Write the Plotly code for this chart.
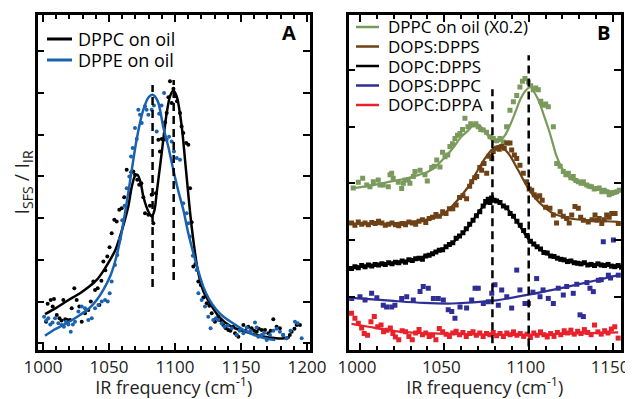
import plotly.graph_objects as go

# the page body adds an 8px margin; the figure is offset by it inside the 633x399 window
W, H = 625, 391
OFF = 8

# ---------------- Panel A data (IR frequency, I_SFS/I_IR in tick units) ----------------
a_names = ["DPPC on oil", "DPPE on oil"]
a_colors = ["#000000", "#1a62b0"]

a_dppc_f = [1002.3, 1003.5, 1005.8, 1007.3, 1008.3, 1010.4, 1012.4, 1014.0, 1015.4, 1016.8, 1018.4, 1020.5,
            1021.7, 1023.7, 1025.5, 1027.5, 1029.3, 1031.8, 1034.3, 1036.2, 1038.1, 1039.4, 1041.4, 1042.7,
            1044.2, 1045.7, 1047.2, 1048.7, 1050.4, 1052.0, 1054.0, 1055.8, 1057.8, 1059.6, 1061.5, 1063.4,
            1065.4, 1066.9, 1068.4, 1069.7, 1071.4, 1072.9, 1074.5, 1076.0, 1077.3, 1079.8, 1081.0, 1082.3,
            1083.6, 1085.5, 1087.4, 1088.6, 1090.0, 1091.1, 1092.5, 1093.7, 1095.0, 1096.2, 1097.5, 1098.8,
            1100.0, 1101.5, 1103.8, 1105.0, 1106.3, 1108.5, 1110.1, 1111.4, 1112.6, 1113.9, 1115.5, 1117.7,
            1119.5, 1121.5, 1124.0, 1126.0, 1127.8, 1130.3, 1132.8, 1134.5, 1136.6, 1138.5, 1140.4, 1142.0,
            1144.2, 1145.5, 1146.7, 1148.0, 1149.2, 1151.8, 1153.5, 1155.5, 1158.1, 1160.0, 1161.9, 1163.5,
            1165.7, 1168.2, 1170.7, 1172.5, 1174.5, 1177.0, 1179.5, 1182.0, 1184.6, 1187.0, 1188.4, 1190.5,
            1192.2, 1194.7]
a_dppc_v = [0.52, 0.95, 1.04, 0.88, 1.06, 0.68, 0.60, 0.55, 1.04, 0.58, 0.56, 0.56,
            0.84, 1.32, 1.04, 0.88, 0.52, 0.72, 0.80, 1.00, 1.48, 1.28, 1.32, 0.92,
            1.50, 1.96, 1.75, 2.08, 2.30, 2.64, 2.96, 2.92, 3.20, 3.24, 3.50, 4.16,
            3.60, 4.10, 4.12, 4.04, 3.92, 3.80, 3.84, 3.50, 3.12, 3.08, 3.30, 3.56,
            2.88, 3.60, 4.88, 4.60, 4.90, 4.88, 5.30, 5.52, 5.90, 6.28, 5.76, 6.10,
            5.92, 5.80, 5.52, 5.20, 5.04, 4.80, 4.76, 3.72, 2.90, 1.84, 1.90, 1.48,
            1.40, 1.10, 0.96, 0.90, 0.72, 0.52, 0.64, 0.55, 0.44, 0.36, 0.32, 0.30,
            0.40, 0.24, 0.20, 0.16, 0.32, 0.44, 0.30, 0.40, 0.36, 0.30, 0.28, 0.35,
            0.32, 0.32, 0.24, 0.30, 0.58, 0.40, 0.36, 0.20, 0.12, 0.20, 0.28, 0.35,
            0.44, 0.44]

a_dppe_f = [1000.8, 1002.5, 1004.0, 1005.5, 1007.2, 1009.1, 1011.6, 1014.2, 1015.8, 1017.4, 1019.2, 1021.0,
            1022.6, 1024.2, 1026.8, 1029.3, 1031.8, 1034.3, 1036.9, 1039.4, 1041.9, 1044.5, 1047.0, 1049.0,
            1050.5, 1052.0, 1054.5, 1056.3, 1058.2, 1060.0, 1061.8, 1063.4, 1065.4, 1066.7, 1067.9, 1069.7,
            1071.0, 1072.2, 1073.5, 1074.8, 1077.3, 1078.5, 1079.8, 1082.3, 1084.0, 1086.1, 1088.0, 1089.8,
            1091.7, 1093.7, 1095.5, 1097.5, 1099.2, 1101.3, 1103.8, 1106.3, 1108.8, 1110.1, 1111.4, 1113.5,
            1116.4, 1117.7, 1120.2, 1122.7, 1125.2, 1127.0, 1129.0, 1131.0, 1132.8, 1135.4, 1137.5, 1140.0,
            1143.0, 1146.7, 1149.0, 1151.8, 1154.3, 1157.0, 1160.6, 1161.9, 1163.1, 1165.7, 1167.5, 1169.5,
            1172.0, 1174.5, 1177.0, 1179.5, 1182.0, 1184.6, 1187.5, 1190.9, 1193.0, 1196.0]
a_dppe_v = [0.64, 0.55, 0.60, 0.45, 0.50, 0.60, 0.48, 0.44, 0.40, 0.52, 0.45, 0.28,
            0.45, 0.52, 0.76, 0.88, 0.84, 0.56, 0.60, 0.84, 0.92, 1.00, 1.04, 1.00,
            1.20, 1.48, 1.88, 2.12, 2.50, 2.95, 3.30, 3.72, 4.00, 4.48, 4.68, 5.16,
            4.90, 5.60, 5.48, 5.28, 5.68, 5.60, 5.48, 5.60, 5.70, 5.08, 5.50, 5.70,
            6.00, 4.88, 4.95, 4.84, 4.60, 4.44, 4.40, 3.36, 3.12, 2.88, 2.56, 2.10,
            1.76, 1.20, 1.04, 0.88, 0.64, 0.36, 0.56, 0.60, 0.56, 0.48, 0.40, 0.42,
            0.36, 0.20, 0.30, 0.24, 0.38, 0.30, 0.50, 0.38, 0.16, 0.20, 0.25, 0.08,
            0.20, 0.30, 0.35, 0.28, 0.20, 0.12, 0.30, 0.52, 0.48, 0.12]

a_dppc_fit_f = [1001.5, 1010, 1015.4, 1020, 1028, 1035, 1040.7, 1046, 1050.8, 1055, 1058.3, 1061.5, 1064.6,
                1067, 1069.5, 1071.5, 1074, 1076, 1079.8, 1082.3, 1084.5, 1086.1, 1089.9, 1093.7, 1096.2,
                1098.7, 1101.3, 1105.1, 1107.6, 1112.6, 1117.7, 1121.5, 1126.5, 1133, 1141.7, 1153, 1168,
                1183, 1187]
a_dppc_fit_v = [0.70, 0.85, 0.96, 1.05, 1.20, 1.36, 1.52, 1.75, 2.00, 2.25, 2.56, 2.90, 3.28,
                3.72, 4.00, 4.04, 3.85, 3.52, 3.16, 3.04, 3.20, 3.60, 4.56, 5.52, 5.92,
                6.06, 5.92, 5.20, 4.40, 2.80, 1.68, 1.25, 0.96, 0.65, 0.42, 0.28, 0.16,
                0.12, 0.15]

a_dppe_fit_f = [1001.5, 1008, 1015.4, 1022, 1028, 1035, 1040.7, 1046, 1050.8, 1054.5, 1058.3, 1062, 1066,
                1071, 1076, 1080, 1083, 1087, 1091, 1095, 1098.7, 1102.5, 1106.3, 1110, 1113.9, 1117.5,
                1121.4, 1126, 1131.6, 1137, 1144, 1152, 1160, 1168, 1176]
a_dppe_fit_v = [0.18, 0.32, 0.44, 0.56, 0.68, 0.84, 1.04, 1.30, 1.60, 1.95, 2.45, 3.10, 3.90,
                4.90, 5.60, 5.90, 5.96, 5.80, 5.20, 4.70, 4.16, 3.65, 3.20, 2.65, 2.16, 1.75,
                1.36, 1.05, 0.80, 0.63, 0.48, 0.32, 0.20, 0.12, 0.08]

a_peaks = [1083, 1099]          # dashed marker positions
a_peak_spans = [(1.35, 6.19), (1.52, 6.31)]

# ---------------- Panel B data ----------------
b_names = ["DPPC on oil (X0.2)", "DOPS:DPPS", "DOPC:DPPS", "DOPS:DPPC", "DOPC:DPPA"]
b_colors = ["#7a9a5c", "#6e4216", "#000000", "#2e2e96", "#e8212b"]

b_green_f = [996, 999, 1001.6, 1004, 1005.9, 1007.9, 1010.8, 1011.9, 1013.8, 1016.8, 1017.8, 1018.8, 1019.7,
             1022.7, 1024.7, 1025.7, 1026.7, 1028.6, 1029.6, 1031.6, 1032.6, 1035.6, 1038.5, 1039.9, 1042.5,
             1044, 1045.5, 1047.4, 1048.9, 1050.4, 1052, 1053.3, 1054.8, 1056.3, 1057.8, 1059.3, 1060.8,
             1062.2, 1064, 1065.6, 1067.2, 1068.7, 1070.1, 1071.6, 1073.1, 1075, 1077.1, 1079, 1081, 1083,
             1084.9, 1086.9, 1088.9, 1090.9, 1092.9, 1094.8, 1096.3, 1097.8, 1099.8, 1101.2, 1102.7, 1104.2,
             1105.7, 1107.2, 1108.7, 1110.1, 1111.6, 1114.6, 1116.6, 1118.6, 1120.5, 1122, 1123.5, 1125,
             1126.4, 1128, 1129.4, 1131, 1132.4, 1134.4, 1135.8, 1137.3, 1138.8, 1140.3, 1141.8, 1143.3,
             1144.7, 1146.2, 1147.7, 1149.2, 1150.7, 1152.2, 1153.7]
b_green_v = [2.92, 3.02, 3.09, 2.97, 2.94, 3.03, 3.06, 2.97, 2.97, 2.94, 3.15, 3.18, 3.09,
             3.02, 2.91, 3.00, 3.06, 3.06, 3.00, 3.12, 3.21, 3.23, 3.15, 3.04, 3.28,
             3.30, 3.41, 3.29, 3.55, 3.47, 3.50, 3.65, 3.70, 3.79, 3.85, 3.88, 3.95,
             4.15, 4.00, 4.05, 4.03, 4.05, 4.00, 3.95, 3.94, 3.90, 3.82, 3.79, 3.75, 3.79,
             3.73, 4.00, 4.29, 4.44, 4.55, 4.70, 4.80, 4.85, 4.79, 4.72, 4.65, 4.68,
             4.65, 4.45, 4.38, 4.40, 4.35, 4.00, 3.35, 3.30, 3.21, 3.15, 3.18, 3.10,
             3.12, 3.05, 3.03, 3.00, 3.03, 2.97, 2.95, 2.94, 2.90, 2.91, 2.92, 2.85,
             2.88, 2.85, 2.80, 2.82, 2.84, 2.85, 2.88]

b_brown_f = [995, 997, 999, 1001, 1003, 1005, 1007, 1009, 1011, 1013, 1015, 1017, 1019, 1021, 1023, 1025,
             1027, 1029, 1031, 1033, 1035, 1037, 1039, 1041, 1043, 1045, 1047, 1049, 1051, 1053, 1055,
             1057, 1059, 1061, 1063.2, 1065, 1066.2, 1068, 1069.2, 1071, 1072.1, 1073.5, 1075.1, 1076.5,
             1078.1, 1079, 1081, 1082.5, 1084, 1085.5, 1087, 1088.9, 1089.9, 1091.5, 1092.9, 1094.8,
             1096.8, 1098.8, 1100.3, 1101.8, 1103.3, 1104.7, 1106.5, 1108, 1110, 1112.6, 1114.6, 1116.5,
             1118.6, 1120.5, 1122.5, 1124, 1125.5, 1127.4, 1129.4, 1130.8, 1132.4, 1135.3, 1137.5, 1139.3,
             1140.3, 1141.8, 1143.3, 1144.8, 1146.2, 1147.7, 1149.2, 1151.2, 1153.1]
b_brown_v = [2.30, 2.26, 2.32, 2.28, 2.30, 2.27, 2.31, 2.29, 2.33, 2.30, 2.26, 2.28, 2.30, 2.27, 2.25, 2.29,
             2.27, 2.32, 2.30, 2.28, 2.33, 2.36, 2.31, 2.38, 2.40, 2.45, 2.42, 2.50, 2.47, 2.55, 2.55,
             2.62, 2.75, 2.78, 2.73, 2.95, 3.03, 3.10, 3.12, 3.28, 3.23, 3.35, 3.18, 3.48,
             3.44, 3.56, 3.62, 3.60, 3.65, 3.62, 3.71, 3.71, 3.59, 3.50, 3.44, 3.32,
             3.18, 3.03, 2.90, 2.88, 2.80, 2.76, 2.78, 2.70, 2.58, 2.56, 2.44, 2.30,
             2.50, 2.42, 2.38, 2.30, 2.44, 2.59, 2.56, 2.40, 2.35, 2.32, 2.36, 2.44,
             2.35, 2.38, 2.29, 2.36, 2.44, 2.40, 2.47, 2.47, 2.29]

b_black_f = [995, 997, 999, 1001, 1003, 1005, 1007, 1009, 1011, 1013, 1015, 1017, 1019, 1021, 1023, 1025,
             1027, 1029, 1031, 1033, 1035, 1037, 1039, 1041, 1043, 1045, 1047, 1049, 1051, 1053, 1055,
             1057, 1059, 1061, 1063, 1065, 1067, 1069, 1071, 1073, 1074.5, 1076, 1077, 1078, 1079.5, 1081,
             1083, 1085, 1087, 1089, 1091, 1093, 1095, 1097, 1099, 1101, 1103, 1105, 1107, 1109, 1111,
             1113, 1115, 1117, 1119, 1121, 1123, 1125, 1127, 1129, 1131, 1133, 1135, 1137, 1139, 1141,
             1143, 1145, 1147, 1149, 1151, 1153, 1155]
b_black_v = [1.50, 1.53, 1.51, 1.55, 1.53, 1.56, 1.54, 1.57, 1.56, 1.58, 1.57, 1.60, 1.58, 1.61, 1.60, 1.63,
             1.61, 1.65, 1.64, 1.67, 1.68, 1.66, 1.72, 1.73, 1.76, 1.79, 1.82, 1.83, 1.88, 1.92, 1.95,
             2.03, 2.07, 2.13, 2.20, 2.28, 2.35, 2.43, 2.50, 2.60, 2.68, 2.72, 2.66, 2.74, 2.70, 2.69,
             2.66, 2.60, 2.57, 2.47, 2.42, 2.33, 2.26, 2.17, 2.08, 1.98, 1.93, 1.88, 1.84, 1.78, 1.77,
             1.72, 1.71, 1.68, 1.66, 1.65, 1.62, 1.63, 1.60, 1.59, 1.58, 1.60, 1.56, 1.57, 1.55, 1.58,
             1.56, 1.55, 1.57, 1.54, 1.53, 1.55, 1.52]

b_blue_f = [995.1, 1000, 1003, 1006.9, 1010, 1013.8, 1015.8, 1018.8, 1020.7, 1024.7, 1027.7, 1031.6, 1035.6,
            1037.5, 1040.5, 1043.5, 1046.4, 1049.4, 1052.3, 1054.4, 1056.3, 1059.3, 1063.2, 1066.2, 1068.2,
            1070.1, 1073.1, 1076.1, 1078.1, 1080, 1082, 1084, 1087, 1089.9, 1092.9, 1094.8, 1097.8, 1099.8,
            1102.5, 1104.7, 1106.7, 1108.5, 1111.6, 1114.6, 1117.5, 1120.5, 1122.5, 1126.4, 1128.5, 1130.4,
            1132.4, 1134.5, 1136.3, 1138.3, 1141.3, 1143, 1144.2, 1147.2, 1148.5, 1150.2, 1153.1]
b_blue_v = [0.97, 1.00, 0.94, 1.06, 0.98, 0.85, 0.82, 0.82, 0.85, 0.97, 1.00, 0.94, 1.09,
            1.18, 1.15, 0.97, 0.97, 0.94, 0.77, 0.74, 0.62, 0.82, 0.80, 0.94, 1.15,
            1.15, 0.88, 0.91, 1.06, 1.21, 0.85, 1.12, 1.00, 0.80, 1.47, 1.12, 0.88, 0.88,
            1.08, 1.32, 1.00, 1.12, 0.97, 0.88, 1.15, 1.03, 1.18, 1.06, 1.22, 0.68,
            0.65, 1.25, 1.15, 1.09, 1.29, 1.30, 1.97, 1.38, 1.33, 2.00, 1.38]

b_red_f = [995, 997, 999, 1001, 1002.5, 1004.5, 1006.5, 1008.5, 1010.5, 1012.5, 1014, 1016, 1018, 1019.5,
           1021, 1023, 1025, 1027, 1029, 1031, 1033, 1035, 1037, 1039, 1041, 1043, 1045, 1047, 1049, 1051,
           1053, 1055, 1057, 1059, 1061, 1063, 1065, 1067, 1069, 1071, 1073, 1075, 1077, 1079, 1081, 1083,
           1085, 1087, 1089, 1091, 1093, 1095, 1097, 1099, 1101, 1103, 1105, 1107, 1109, 1111, 1113, 1115,
           1117, 1119, 1121, 1123, 1125, 1127, 1129, 1131, 1133, 1135, 1137, 1139, 1141, 1143, 1145, 1147,
           1149, 1151, 1153]
b_red_v = [0.71, 0.62, 0.53, 0.45, 0.35, 0.32, 0.56, 0.65, 0.47, 0.50, 0.38, 0.41, 0.45, 0.35,
           0.29, 0.24, 0.40, 0.38, 0.30, 0.24, 0.36, 0.42, 0.33, 0.36, 0.30, 0.32, 0.24, 0.44, 0.38, 0.34,
           0.30, 0.36, 0.39, 0.33, 0.37, 0.30, 0.35, 0.38, 0.32, 0.36, 0.30, 0.35, 0.33, 0.37, 0.31, 0.35,
           0.30, 0.36, 0.33, 0.38, 0.32, 0.35, 0.30, 0.34, 0.28, 0.36, 0.32, 0.38, 0.33, 0.29, 0.35, 0.30,
           0.37, 0.33, 0.40, 0.36, 0.41, 0.34, 0.39, 0.35, 0.42, 0.37, 0.33, 0.50, 0.38, 0.34, 0.40, 0.36,
           0.43, 0.47, 0.27]

b_green_fit_f = [995, 1008, 1018, 1028, 1035, 1040, 1045, 1050, 1055, 1060, 1064, 1068, 1071, 1074, 1077,
                 1080, 1083, 1086, 1089, 1092, 1095, 1098, 1101, 1103, 1106, 1109, 1112.6, 1116.6, 1120,
                 1122.5, 1126, 1130.4, 1135, 1140.3, 1147, 1153.1]
b_green_fit_v = [2.91, 2.97, 3.03, 3.09, 3.15, 3.20, 3.30, 3.45, 3.62, 3.82, 3.93, 4.05, 4.02, 3.91, 3.80,
                 3.73, 3.75, 3.85, 4.03, 4.25, 4.48, 4.63, 4.70, 4.62, 4.45, 4.20, 3.88, 3.47, 3.25,
                 3.15, 3.06, 3.00, 2.95, 2.91, 2.87, 2.83]
b_brown_fit_f = [995, 1017.8, 1037.5, 1047.4, 1054.4, 1064.2, 1072.1, 1078.1, 1082.5, 1087.9, 1093.8,
                 1100, 1106.7, 1114.6, 1124.5, 1140.3, 1153.1]
b_brown_fit_v = [2.29, 2.29, 2.35, 2.42, 2.59, 2.94, 3.35, 3.59, 3.66, 3.53, 3.23,
                 2.90, 2.65, 2.47, 2.38, 2.34, 2.32]
b_black_fit_f = [995, 1017.8, 1037.5, 1044.5, 1054.4, 1064.2, 1072.1, 1078, 1080, 1087.9, 1093.8, 1100.3,
                 1108.7, 1116.6, 1128.5, 1140.3, 1153.1]
b_black_fit_v = [1.52, 1.59, 1.71, 1.78, 1.94, 2.23, 2.56, 2.71, 2.70, 2.53, 2.29, 2.00,
                 1.79, 1.68, 1.60, 1.56, 1.54]
b_blue_fit_f = [995, 1017.8, 1037.5, 1055, 1079, 1100.8, 1120.5, 1140.3, 1153.1]
b_blue_fit_v = [0.98, 0.93, 0.89, 0.88, 0.93, 1.04, 1.16, 1.29, 1.38]
b_red_fit_f = [995, 1005, 1015, 1025, 1035, 1047, 1060, 1080, 1100, 1125, 1153]
b_red_fit_v = [0.52, 0.47, 0.42, 0.38, 0.36, 0.35, 0.34, 0.33, 0.33, 0.35, 0.37]

b_peaks = [1078.5, 1100]
b_peak_spans = [(0.18, 4.66), (0.12, 5.26)]

# ---------------- figure ----------------
FONT = "Open Sans"
fig = go.Figure()

a_pts = [(a_dppc_f, a_dppc_v), (a_dppe_f, a_dppe_v)]
a_fits = [(a_dppc_fit_f, a_dppc_fit_v), (a_dppe_fit_f, a_dppe_fit_v)]
for name, col, (fx, fy), (lx, ly) in zip(a_names, a_colors, a_pts, a_fits):
    fig.add_trace(go.Scatter(x=fx, y=fy, mode="markers", name=name + " data", showlegend=False,
                             marker=dict(color=col, size=4, symbol="circle"), xaxis="x", yaxis="y"))
    fig.add_trace(go.Scatter(x=lx, y=ly, mode="lines", name=name, showlegend=False,
                             line=dict(color=col, width=2.5, shape="spline", smoothing=0.8),
                             xaxis="x", yaxis="y"))

b_pts = [(b_green_f, b_green_v), (b_brown_f, b_brown_v), (b_black_f, b_black_v),
         (b_blue_f, b_blue_v), (b_red_f, b_red_v)]
b_fits = [(b_green_fit_f, b_green_fit_v), (b_brown_fit_f, b_brown_fit_v), (b_black_fit_f, b_black_fit_v),
          (b_blue_fit_f, b_blue_fit_v), (b_red_fit_f, b_red_fit_v)]
for name, col, (fx, fy), (lx, ly) in zip(b_names, b_colors, b_pts, b_fits):
    fig.add_trace(go.Scatter(x=fx, y=fy, mode="markers", name=name + " data", showlegend=False,
                             marker=dict(color=col, size=5, symbol="square"), xaxis="x2", yaxis="y2"))
    fig.add_trace(go.Scatter(x=lx, y=ly, mode="lines", name=name, showlegend=False,
                             line=dict(color=col, width=2.2, shape="spline", smoothing=0.8),
                             xaxis="x2", yaxis="y2"))

shapes = []
for xp, (y0, y1) in zip(a_peaks, a_peak_spans):
    shapes.append(dict(type="line", xref="x", yref="y", x0=xp, x1=xp, y0=y0, y1=y1,
                       line=dict(color="black", width=2.5, dash="8px,5px")))
for xp, (y0, y1) in zip(b_peaks, b_peak_spans):
    shapes.append(dict(type="line", xref="x2", yref="y2", x0=xp, x1=xp, y0=y0, y1=y1,
                       line=dict(color="black", width=2.5, dash="8px,5px")))

def PX(p):
    return (p - OFF) / W

def PY(p):
    return 1 - (p - OFF) / H

annotations = []
# legend A (manual)
for i, (name, col) in enumerate(zip(a_names, a_colors)):
    yy = 39 + i * 21
    shapes.append(dict(type="line", xref="paper", yref="paper", x0=PX(47), x1=PX(72), y0=PY(yy), y1=PY(yy),
                       line=dict(color=col, width=3)))
    annotations.append(dict(text=name, xref="paper", yref="paper", x=PX(76), y=PY(yy), xanchor="left",
                            yanchor="middle", showarrow=False, font=dict(family=FONT, size=18, color="black")))
# legend B (manual)
for i, (name, col) in enumerate(zip(b_names, b_colors)):
    yy = 27 + i * 19.5
    shapes.append(dict(type="line", xref="paper", yref="paper", x0=PX(356), x1=PX(379), y0=PY(yy), y1=PY(yy),
                       line=dict(color=col, width=2.5)))
    annotations.append(dict(text=name, xref="paper", yref="paper", x=PX(386), y=PY(yy), xanchor="left",
                            yanchor="middle", showarrow=False, font=dict(family=FONT, size=17, color="black")))
for lab, xx in (("A", 289), ("B", 603)):
    annotations.append(dict(text="<b>" + lab + "</b>", xref="paper", yref="paper", x=PX(xx), y=PY(33),
                            xanchor="center", yanchor="middle", showarrow=False,
                            font=dict(family=FONT, size=20, color="black")))

axis_common = dict(showline=True, linecolor="black", linewidth=2.5, mirror="allticks", ticks="inside",
                   tickcolor="black", tickwidth=2, showgrid=False, zeroline=False, automargin=False)
xtitle = dict(text="IR frequency (cm<sup>-1</sup>)", font=dict(family=FONT, size=18, color="#222"), standoff=1)

fig.update_layout(
    width=W, height=H, margin=dict(l=0, r=0, t=0, b=0, autoexpand=False),
    paper_bgcolor="white", plot_bgcolor="white",
    font=dict(family=FONT, color="#222"),
    shapes=shapes, annotations=annotations,
    xaxis=dict(domain=[PX(37.5), PX(310)], range=[995.8, 1202.3], anchor="y", tickvals=[1000, 1050, 1100, 1150, 1200],
               ticklen=7, minor=dict(dtick=10, tick0=1000, ticks="inside", ticklen=4, tickwidth=1.5, tickcolor="black"),
               tickfont=dict(family=FONT, size=17, color="#222"), ticklabeloverflow="allow",
               title=xtitle, **axis_common),
    yaxis=dict(domain=[PY(350), PY(15)], range=[-0.16, 7.87], anchor="x", dtick=1, tick0=0, ticklen=7,
               showticklabels=False,
               title=dict(text="I<sub>SFS</sub> / I<sub>IR</sub>", font=dict(family=FONT, size=20, color="#222"),
                          standoff=3), **axis_common),
    xaxis2=dict(domain=[PX(348.5), PX(621)], range=[993.2, 1154.7], anchor="y2", tickvals=[1000, 1050, 1100, 1150],
                ticklen=7, minor=dict(dtick=10, tick0=1000, ticks="inside", ticklen=4, tickwidth=1.5, tickcolor="black"),
                tickfont=dict(family=FONT, size=17, color="#222"), ticklabeloverflow="allow", ticklabelshift=-3,
                title=xtitle, **axis_common),
    yaxis2=dict(domain=[PY(350), PY(15)], range=[0.06, 5.97], anchor="x2", tickvals=[1, 2, 3, 4, 5],
                ticklen=7, showticklabels=False, **axis_common),
)

fig.write_html("out.html")
